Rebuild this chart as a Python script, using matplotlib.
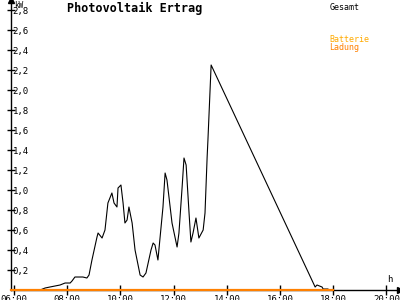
import matplotlib.pyplot as plt

# Gesamt (total) – time in decimal hours, power in kW
gesamt_t = [6.98, 7.17, 7.35, 7.54, 7.73, 7.92, 8.11, 8.18, 8.29, 8.48, 8.59, 8.74,
            8.82, 8.93, 9.12, 9.16, 9.31, 9.42, 9.53, 9.68, 9.76, 9.87, 9.91, 10.02,
            10.10, 10.17, 10.25, 10.32, 10.44, 10.55, 10.74, 10.85, 10.96, 11.15,
            11.23, 11.30, 11.41, 11.60, 11.68, 11.75, 11.94, 12.13, 12.20, 12.32,
            12.39, 12.47, 12.58, 12.65, 12.73, 12.84, 12.95, 13.11, 13.18, 13.26,
            13.29, 13.41, 17.32, 17.39, 17.58, 17.62, 17.80]
gesamt_kw = [0.0, 0.02, 0.03, 0.04, 0.05, 0.07, 0.07, 0.09, 0.13, 0.13, 0.13, 0.12,
             0.15, 0.30, 0.53, 0.57, 0.52, 0.60, 0.87, 0.97, 0.87, 0.83, 1.02, 1.05,
             0.87, 0.67, 0.70, 0.83, 0.67, 0.40, 0.15, 0.13, 0.17, 0.40,
             0.47, 0.45, 0.30, 0.83, 1.17, 1.10, 0.67, 0.43, 0.57, 1.03,
             1.32, 1.25, 0.77, 0.48, 0.57, 0.72, 0.52, 0.60, 0.77, 1.33,
             1.50, 2.25, 0.03, 0.05, 0.03, 0.01, 0.01]

# Batterie Ladung
ladung_t = [5.89, 18.0]
ladung_kw = [0.0, 0.0]

yticks = [0.2, 0.4, 0.6, 0.8, 1.0, 1.2, 1.4, 1.6, 1.8, 2.0, 2.2, 2.4, 2.6, 2.8]
xticks = [6, 8, 10, 12, 14, 16, 18, 20]
xlabels = ["06:00", "08:00", "10:00", "12:00", "14:00", "16:00", "18:00", "20:00"]

font = "DejaVu Sans Mono"

fig = plt.figure(figsize=(4, 3), dpi=100)
ax = fig.add_axes([0.0275, 0.0333, 0.9725, 0.9667])
ax.set_xlim(5.887, 20.51)
ax.set_ylim(0, 2.9)

ax.plot(gesamt_t, gesamt_kw, color="black", lw=0.8, zorder=3)
ax.plot(ladung_t, ladung_kw, color="#ff8000", lw=1.6, zorder=4, clip_on=False)

for s in ["top", "right"]:
    ax.spines[s].set_visible(False)
ax.spines["left"].set_linewidth(1.0)
ax.spines["bottom"].set_linewidth(1.0)

# arrow heads on the axes
ax.plot(1, 0, ">", color="black", ms=4, transform=ax.transAxes, clip_on=False)
ax.plot(0, 1, "^", color="black", ms=4, transform=ax.transAxes, clip_on=False)

ax.set_yticks(yticks)
ax.set_yticklabels([f"{v:.1f}".replace(".", ",") for v in yticks],
                   fontfamily=font, fontsize=6.5)
for lab in ax.get_yticklabels():
    lab.set_ha("left")
ax.tick_params(axis="y", direction="inout", length=6, width=1, pad=-4)

ax.set_xticks(xticks)
ax.set_xticklabels(xlabels, fontfamily=font, fontsize=6.5)
ax.tick_params(axis="x", direction="inout", length=7, width=1, pad=0)

fig.text(0.035, 0.995, "kW", fontfamily=font, fontsize=5.5, va="top", ha="left")
fig.text(0.168, 0.993, "Photovoltaik Ertrag", fontfamily=font, fontsize=8.5,
         fontweight="bold", va="top", ha="left")
fig.text(0.968, 0.07, "h", fontfamily=font, fontsize=6.5, va="center", ha="left")
fig.text(0.823, 0.99, "Gesamt", fontfamily=font, fontsize=6, va="top", ha="left")
fig.text(0.823, 0.885, "Batterie", fontfamily=font, fontsize=6, va="top",
         ha="left", color="#ffaa00")
fig.text(0.823, 0.858, "Ladung", fontfamily=font, fontsize=6, va="top",
         ha="left", color="#ff8000")

fig.savefig("out.png", dpi=100)
